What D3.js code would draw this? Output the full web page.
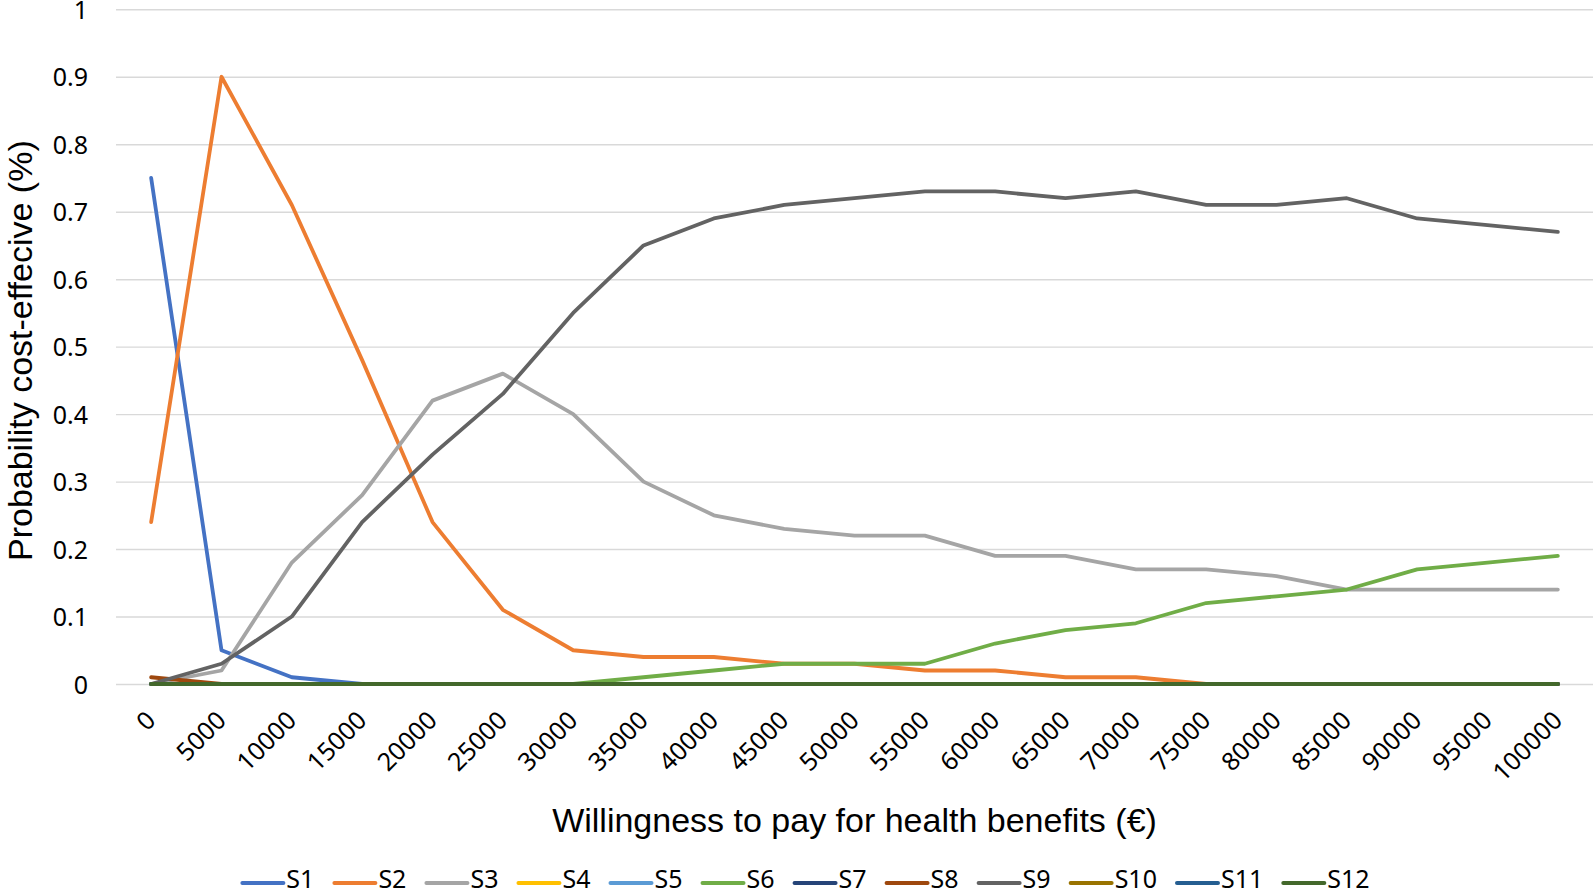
<!DOCTYPE html>
<html>
<head>
<meta charset="utf-8">
<script src="https://cdn.jsdelivr.net/npm/d3@7"></script>
<style>
  html, body { margin: 0; padding: 0; background: #fff; }
  svg { display: block; }
</style>
</head>
<body>
<svg id="chart" width="1594" height="896"></svg>
<script>
// ---- data ----
const categories = ["0","5000","10000","15000","20000","25000","30000","35000","40000","45000","50000",
  "55000","60000","65000","70000","75000","80000","85000","90000","95000","100000"];
const seriesNames = ["S1","S2","S3","S4","S5","S6","S7","S8","S9","S10","S11","S12"];
const seriesColors = ["#4472C4","#ED7D31","#A5A5A5","#FFC000","#5B9BD5","#70AD47","#264478","#9E480E","#636363","#997300","#255E91","#43682B"];
const zeros = [0,0,0,0,0,0,0,0,0,0,0,0,0,0,0,0,0,0,0,0,0];
const S1  = [0.75,0.05,0.01,0,0,0,0,0,0,0,0,0,0,0,0,0,0,0,0,0,0];
const S2  = [0.24,0.90,0.71,0.48,0.24,0.11,0.05,0.04,0.04,0.03,0.03,0.02,0.02,0.01,0.01,0,0,0,0,0,0];
const S3  = [0,0.02,0.18,0.28,0.42,0.46,0.40,0.30,0.25,0.23,0.22,0.22,0.19,0.19,0.17,0.17,0.16,0.14,0.14,0.14,0.14];
const S4  = zeros;
const S5  = zeros;
const S6  = [0,0,0,0,0,0,0,0.01,0.02,0.03,0.03,0.03,0.06,0.08,0.09,0.12,0.13,0.14,0.17,0.18,0.19];
const S7  = zeros;
const S8  = [0.01,0,0,0,0,0,0,0,0,0,0,0,0,0,0,0,0,0,0,0,0];
const S9  = [0,0.03,0.10,0.24,0.34,0.43,0.55,0.65,0.69,0.71,0.72,0.73,0.73,0.72,0.73,0.71,0.71,0.72,0.69,0.68,0.67];
const S10 = zeros;
const S11 = zeros;
const S12 = zeros;
const seriesValues = [S1,S2,S3,S4,S5,S6,S7,S8,S9,S10,S11,S12];
const yTicks = [0,0.1,0.2,0.3,0.4,0.5,0.6,0.7,0.8,0.9,1];
const yTickLabels = ["0","0.1","0.2","0.3","0.4","0.5","0.6","0.7","0.8","0.9","1"];
const xTitle = "Willingness to pay for health benefits (€)";
const yTitle = "Probability cost-effecive (%)";

// ---- layout ----
const plot = { left: 116, right: 1593, top: 9.3, bottom: 684 };
const tickFont = "'Noto Sans', sans-serif";
const titleFont = "'Liberation Sans', Arial, sans-serif";

const svg = d3.select("#chart");
const x = d3.scaleBand().domain(categories).range([plot.left, plot.right]).paddingInner(0).paddingOuter(0);
const y = d3.scaleLinear().domain([0, 1]).range([plot.bottom, plot.top]);
const px = c => x(c) + x.bandwidth() / 2;

// gridlines + y labels
const yAxis = d3.axisLeft(y).tickValues(yTicks).tickFormat((d, i) => yTickLabels[i])
  .tickSize(-(plot.right - plot.left)).tickPadding(28);
const gy = svg.append("g").attr("transform", `translate(${plot.left},0)`).call(yAxis);
gy.select(".domain").remove();
gy.selectAll(".tick line").attr("stroke", "#D9D9D9").attr("stroke-width", 1.4);
gy.selectAll(".tick text").attr("font-family", tickFont).attr("font-size", 25).attr("fill", "#000")
  .attr("dy", "0.36em");

// x labels
const xAxis = d3.axisBottom(x).tickSize(0).tickPadding(0);
const gx = svg.append("g").attr("transform", `translate(0,${plot.bottom})`).call(xAxis);
gx.select(".domain").remove();
gx.selectAll(".tick line").remove();
gx.selectAll(".tick text")
  .attr("font-family", tickFont).attr("font-size", 25).attr("fill", "#000")
  .attr("text-anchor", "end").attr("dy", 0).attr("y", 0)
  .attr("transform", "translate(6,38) rotate(-45)");

// lines
const line = d3.line().x((d, i) => px(categories[i])).y(d => y(d));
seriesValues.forEach((vals, k) => {
  svg.append("path").datum(vals)
    .attr("d", line)
    .attr("fill", "none")
    .attr("stroke", seriesColors[k])
    .attr("stroke-width", 3.8)
    .attr("stroke-linejoin", "round")
    .attr("stroke-linecap", "round");
});

// titles
svg.append("text").attr("x", (plot.left + plot.right) / 2).attr("y", 832)
  .attr("text-anchor", "middle").attr("font-family", titleFont).attr("font-size", 34).attr("fill", "#000")
  .text(xTitle);
svg.append("text").attr("transform", `translate(32,${(plot.top + plot.bottom) / 2 + 4}) rotate(-90)`)
  .attr("text-anchor", "middle").attr("font-family", titleFont).attr("font-size", 34).attr("fill", "#000")
  .text(yTitle);

// legend
const lg = svg.append("g");
const items = seriesNames.map((n, k) => {
  const g = lg.append("g");
  g.append("line").attr("x1", 0).attr("x2", 41).attr("y1", 883).attr("y2", 883)
    .attr("stroke", seriesColors[k]).attr("stroke-width", 4).attr("stroke-linecap", "round");
  const t = g.append("text").attr("x", 44).attr("y", 888)
    .attr("font-family", tickFont).attr("font-size", 25).attr("fill", "#000").text(n);
  return { g, w: 44 + t.node().getComputedTextLength() };
});
const gap = 20;
const total = d3.sum(items, d => d.w) + gap * (items.length - 1);
let cx = 806 - total / 2;
items.forEach(it => { it.g.attr("transform", `translate(${cx},0)`); cx += it.w + gap; });
</script>
</body>
</html>
